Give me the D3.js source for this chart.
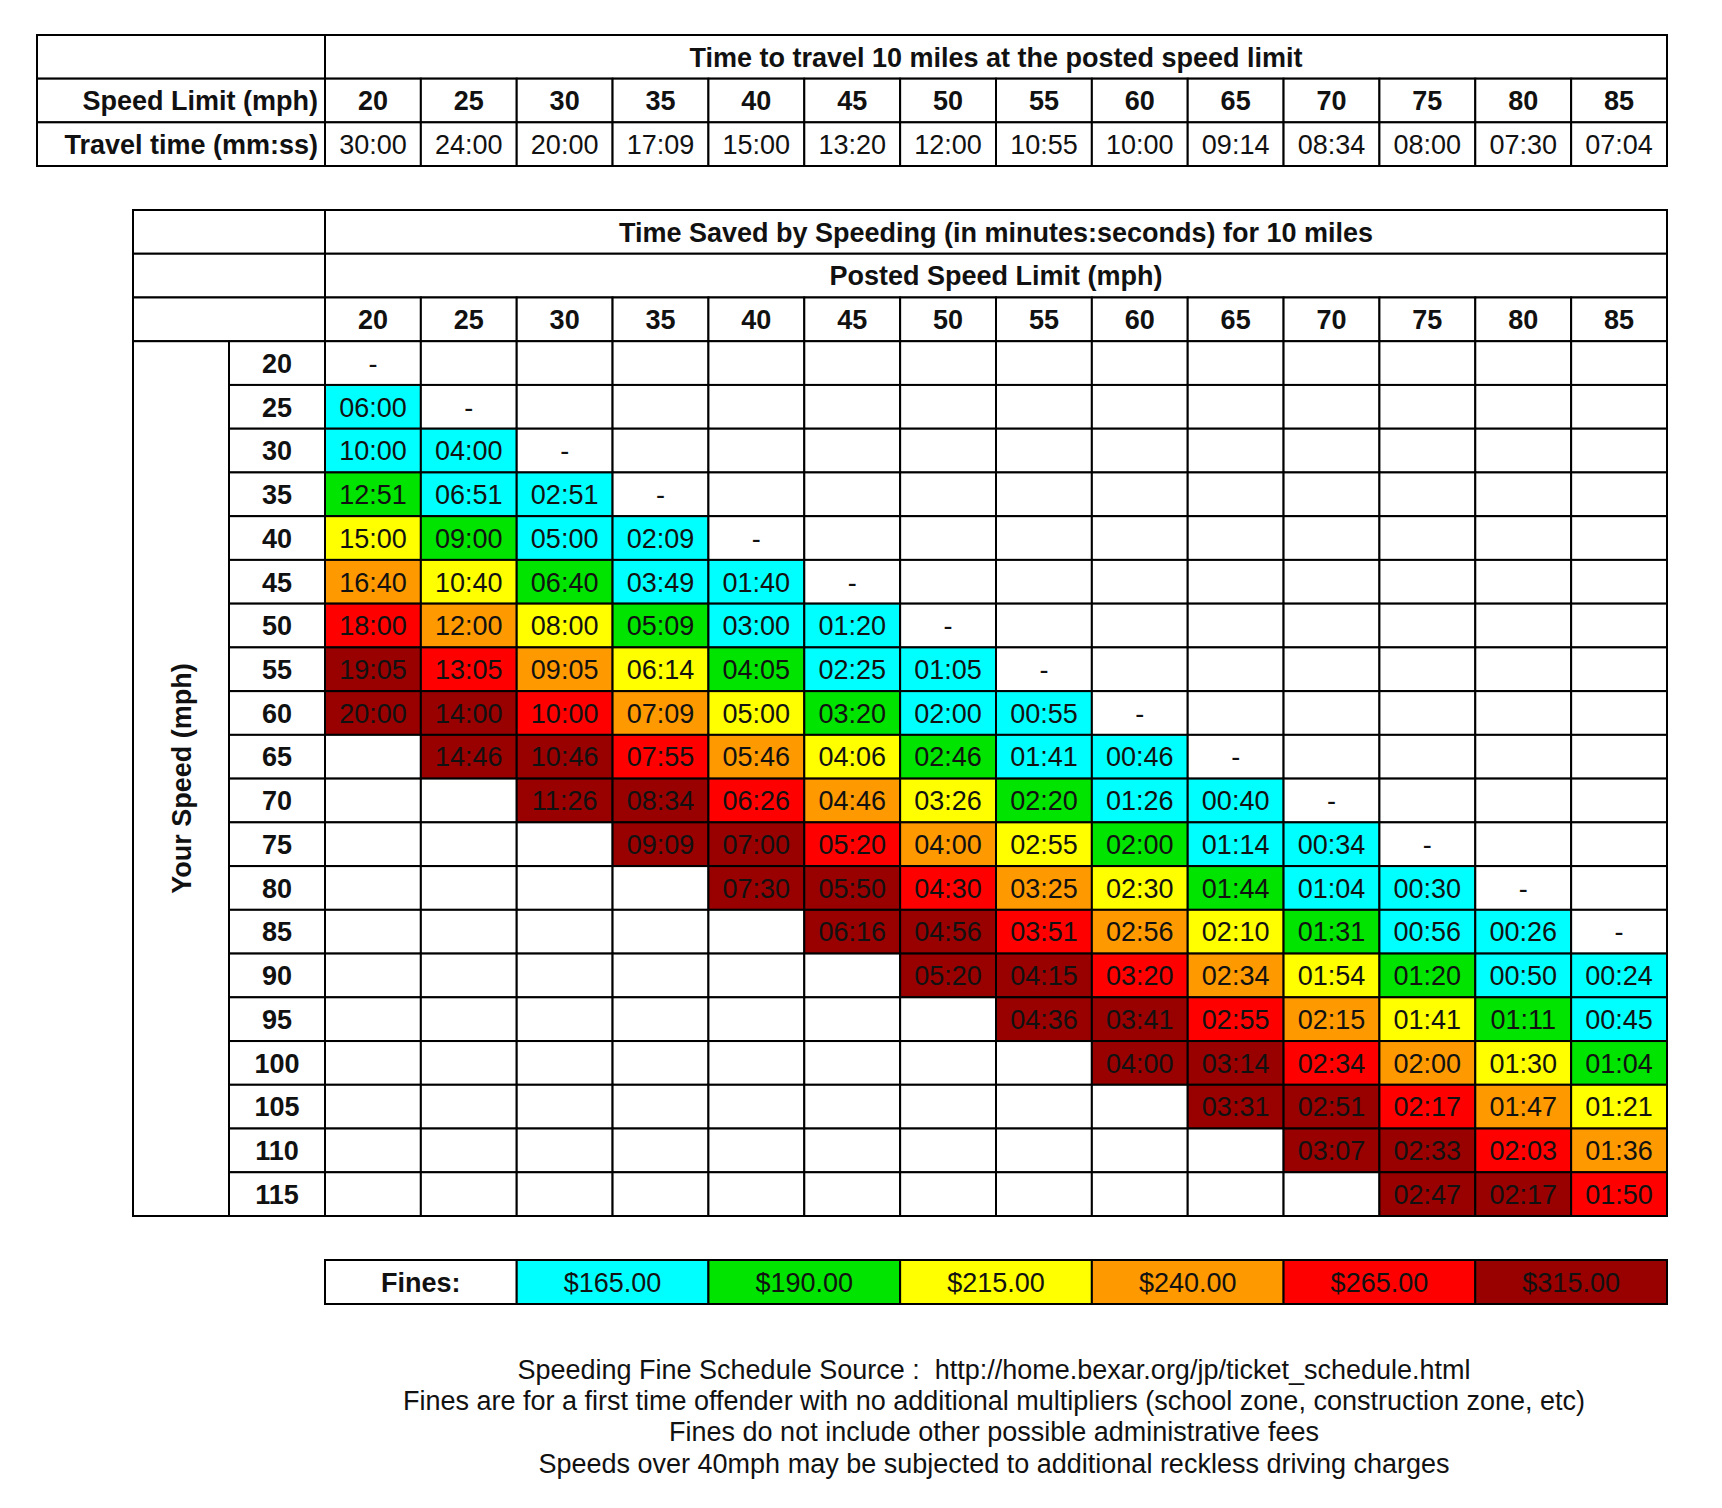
<!DOCTYPE html>
<html><head><meta charset="utf-8">
<script src="https://cdn.jsdelivr.net/npm/d3@7"></script>
<style>body{margin:0;background:#fff}svg{display:block}</style>
</head><body>
<svg id="chart" width="1722" height="1508"></svg>
<script>
const postedSpeeds = [20,25,30,35,40,45,50,55,60,65,70,75,80,85];
const travelTimes = ["30:00","24:00","20:00","17:09","15:00","13:20","12:00","10:55","10:00","09:14","08:34","08:00","07:30","07:04"];
const yourSpeeds = [20,25,30,35,40,45,50,55,60,65,70,75,80,85,90,95,100,105,110,115];
const timeSaved = [
  ["-","","","","","","","","","","","","",""],
  ["06:00","-","","","","","","","","","","","",""],
  ["10:00","04:00","-","","","","","","","","","","",""],
  ["12:51","06:51","02:51","-","","","","","","","","","",""],
  ["15:00","09:00","05:00","02:09","-","","","","","","","","",""],
  ["16:40","10:40","06:40","03:49","01:40","-","","","","","","","",""],
  ["18:00","12:00","08:00","05:09","03:00","01:20","-","","","","","","",""],
  ["19:05","13:05","09:05","06:14","04:05","02:25","01:05","-","","","","","",""],
  ["20:00","14:00","10:00","07:09","05:00","03:20","02:00","00:55","-","","","","",""],
  ["","14:46","10:46","07:55","05:46","04:06","02:46","01:41","00:46","-","","","",""],
  ["","","11:26","08:34","06:26","04:46","03:26","02:20","01:26","00:40","-","","",""],
  ["","","","09:09","07:00","05:20","04:00","02:55","02:00","01:14","00:34","-","",""],
  ["","","","","07:30","05:50","04:30","03:25","02:30","01:44","01:04","00:30","-",""],
  ["","","","","","06:16","04:56","03:51","02:56","02:10","01:31","00:56","00:26","-"],
  ["","","","","","","05:20","04:15","03:20","02:34","01:54","01:20","00:50","00:24"],
  ["","","","","","","","04:36","03:41","02:55","02:15","01:41","01:11","00:45"],
  ["","","","","","","","","04:00","03:14","02:34","02:00","01:30","01:04"],
  ["","","","","","","","","","03:31","02:51","02:17","01:47","01:21"],
  ["","","","","","","","","","","03:07","02:33","02:03","01:36"],
  ["","","","","","","","","","","","02:47","02:17","01:50"]
];
// fine level per cell ("." = no fill)
const fineLevels = [
  "..............",
  "0.............",
  "00............",
  "100...........",
  "2100..........",
  "32100.........",
  "432100........",
  "5432100.......",
  "55432100......",
  ".55432100.....",
  "..55432100....",
  "...55432100...",
  "....55432100..",
  ".....55432100.",
  "......55432100",
  ".......5543210",
  "........554321",
  ".........55432",
  "..........5543",
  "...........554"
];
const fines = ["$165.00","$190.00","$215.00","$240.00","$265.00","$315.00"];
const fineColors = ["#00FFFF","#00E400","#FFFF00","#FF9900","#FF0000","#990000"];
const notes = [
  "Speeding Fine Schedule Source :\u00A0 http://home.bexar.org/jp/ticket_schedule.html",
  "Fines are for a first time offender with no additional multipliers (school zone, construction zone, etc)",
  "Fines do not include other possible administrative fees",
  "Speeds over 40mph may be subjected to additional reckless driving charges"
];

const svg = d3.select("#chart");
const FONT = "'Liberation Sans', Arial, Helvetica, sans-serif";
const FS = 27;
const SW = 2;

function cell(g, x, y, w, h, fill) {
  g.append("rect").attr("x", x).attr("y", y).attr("width", w).attr("height", h)
    .attr("fill", fill || "#fff").attr("stroke", "#000").attr("stroke-width", SW);
}
function txt(g, t, x, y, opts = {}) {
  return g.append("text").attr("x", x).attr("y", y + FS * 0.36)
    .attr("text-anchor", opts.anchor || "middle")
    .attr("font-family", FONT).attr("font-size", opts.size || FS)
    .attr("font-weight", opts.bold ? "bold" : "normal")
    .attr("fill", opts.color || "#111").text(t);
}

const colX = d3.scaleBand().domain(postedSpeeds).range([325, 1667]);
const leftX0 = 37, leftX1 = 325;

// ---------- Top table ----------
const topRows = ["title", "limit", "time"];
const topY = d3.scaleBand().domain(topRows).range([35, 166]);
const gTop = svg.append("g");
topRows.forEach(r => cell(gTop, leftX0, topY(r), leftX1 - leftX0, topY.bandwidth()));
cell(gTop, 325, topY("title"), 1667 - 325, topY.bandwidth());
postedSpeeds.forEach((s, i) => {
  cell(gTop, colX(s), topY("limit"), colX.bandwidth(), topY.bandwidth());
  cell(gTop, colX(s), topY("time"), colX.bandwidth(), topY.bandwidth());
});
txt(gTop, "Time to travel 10 miles at the posted speed limit", (325 + 1667) / 2, topY("title") + topY.bandwidth() / 2, {bold: true});
txt(gTop, "Speed Limit (mph)", leftX1 - 7, topY("limit") + topY.bandwidth() / 2, {bold: true, anchor: "end"});
txt(gTop, "Travel time (mm:ss)", leftX1 - 7, topY("time") + topY.bandwidth() / 2, {bold: true, anchor: "end"});
postedSpeeds.forEach((s, i) => {
  txt(gTop, String(s), colX(s) + colX.bandwidth() / 2, topY("limit") + topY.bandwidth() / 2, {bold: true});
  txt(gTop, travelTimes[i], colX(s) + colX.bandwidth() / 2, topY("time") + topY.bandwidth() / 2);
});

// ---------- Main table ----------
const gMain = svg.append("g");
const headRows = ["h1", "h2", "h3"];
const allRows = headRows.concat(yourSpeeds.map(String));
const rowY = d3.scaleBand().domain(allRows).range([210, 1216]);
const outerX = 133, innerX = 229;
headRows.forEach(r => cell(gMain, outerX, rowY(r), leftX1 - outerX, rowY.bandwidth()));
cell(gMain, 325, rowY("h1"), 1667 - 325, rowY.bandwidth());
cell(gMain, 325, rowY("h2"), 1667 - 325, rowY.bandwidth());
postedSpeeds.forEach(s => cell(gMain, colX(s), rowY("h3"), colX.bandwidth(), rowY.bandwidth()));
txt(gMain, "Time Saved by Speeding (in minutes:seconds) for 10 miles", (325 + 1667) / 2, rowY("h1") + rowY.bandwidth() / 2, {bold: true});
txt(gMain, "Posted Speed Limit (mph)", (325 + 1667) / 2, rowY("h2") + rowY.bandwidth() / 2, {bold: true});
postedSpeeds.forEach(s => txt(gMain, String(s), colX(s) + colX.bandwidth() / 2, rowY("h3") + rowY.bandwidth() / 2, {bold: true}));

const bodyTop = rowY(String(yourSpeeds[0]));
const bodyBot = rowY(String(yourSpeeds[yourSpeeds.length - 1])) + rowY.bandwidth();
cell(gMain, outerX, bodyTop, innerX - outerX, bodyBot - bodyTop);
gMain.append("text")
  .attr("transform", `translate(${(outerX + innerX) / 2},${(bodyTop + bodyBot) / 2}) rotate(-90)`)
  .attr("x", 0).attr("y", FS * 0.36).attr("text-anchor", "middle")
  .attr("font-family", FONT).attr("font-size", FS).attr("font-weight", "bold").attr("fill", "#111")
  .text("Your Speed (mph)");

yourSpeeds.forEach((sp, ri) => {
  const y = rowY(String(sp));
  cell(gMain, innerX, y, leftX1 - innerX, rowY.bandwidth());
  txt(gMain, String(sp), (innerX + leftX1) / 2, y + rowY.bandwidth() / 2, {bold: true});
  postedSpeeds.forEach((ps, ci) => {
    const lv = fineLevels[ri][ci];
    const fill = lv === "." ? "#fff" : fineColors[+lv];
    cell(gMain, colX(ps), y, colX.bandwidth(), rowY.bandwidth(), fill);
  });
});
yourSpeeds.forEach((sp, ri) => {
  const y = rowY(String(sp));
  postedSpeeds.forEach((ps, ci) => {
    const v = timeSaved[ri][ci];
    if (v) txt(gMain, v, colX(ps) + colX.bandwidth() / 2, y + rowY.bandwidth() / 2);
  });
});

// ---------- Fines legend ----------
const gF = svg.append("g");
const fineX = d3.scaleBand().domain(["Fines:"].concat(fines)).range([325, 1667]);
const fy0 = 1260, fh = 44;
cell(gF, fineX("Fines:"), fy0, fineX.bandwidth(), fh);
txt(gF, "Fines:", fineX("Fines:") + fineX.bandwidth() / 2, fy0 + fh / 2, {bold: true});
fines.forEach((f, i) => cell(gF, fineX(f), fy0, fineX.bandwidth(), fh, fineColors[i]));
fines.forEach((f, i) => txt(gF, f, fineX(f) + fineX.bandwidth() / 2, fy0 + fh / 2));

// ---------- Notes ----------
const NFS = 27;
const noteY = d3.scalePoint().domain(notes).range([1369, 1463]);
notes.forEach(n => {
  svg.append("text").attr("x", 994).attr("y", noteY(n) + NFS * 0.36)
    .attr("text-anchor", "middle").attr("font-family", FONT).attr("font-size", NFS)
    .attr("fill", "#111").text(n);
});
</script>
</body></html>
